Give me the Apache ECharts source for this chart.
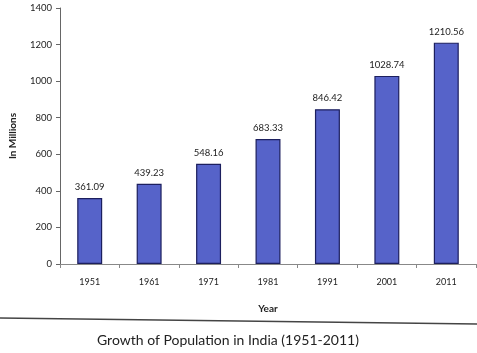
<!DOCTYPE html>
<html>
<head>
<meta charset="utf-8">
<script src="https://cdn.jsdelivr.net/npm/echarts@6/dist/echarts.min.js"></script>
<style>
  html, body { margin: 0; padding: 0; background: #fff; }
  #chart { width: 477px; height: 353px; }
</style>
</head>
<body>
<div id="chart"></div>
<script>
// years on the x axis
const years = ['1951', '1961', '1971', '1981', '1991', '2001', '2011'];
// population in millions
const population = [361.09, 439.23, 548.16, 683.33, 846.42, 1028.74, 1210.56];

const chart = echarts.init(document.getElementById('chart'));
const font = 'Lato, "Open Sans", sans-serif';

chart.setOption({
  animation: false,
  textStyle: { fontFamily: font },
  title: {
    text: 'Growth of Population in India (1951-2011)',
    left: 92,
    top: 328,
    textStyle: { fontFamily: font, fontSize: 14, fontWeight: 'normal', color: '#222' }
  },
  grid: { left: 57, right: 1, top: 8, bottom: 89 },
  xAxis: {
    type: 'category',
    data: years,
    name: 'Year',
    nameLocation: 'middle',
    nameGap: 40,
    nameTextStyle: { fontSize: 10, fontWeight: 'bold', color: '#222' },
    axisLine: { lineStyle: { color: '#888', width: 1 } },
    axisTick: { show: true, lineStyle: { color: '#888' }, length: 4 },
    axisLabel: { fontSize: 9, color: '#222', margin: 14 }
  },
  yAxis: {
    type: 'value',
    min: 0,
    max: 1400,
    interval: 200,
    name: 'In Millions',
    nameLocation: 'middle',
    nameGap: 42,
    nameTextStyle: { fontSize: 10, fontWeight: 'bold', color: '#222' },
    axisLine: { show: true, lineStyle: { color: '#666' } },
    axisTick: { show: true, lineStyle: { color: '#666' }, length: 4 },
    axisLabel: { fontSize: 9.5, color: '#222', margin: 8, formatter: v => String(v) },
    splitLine: { show: false }
  },
  series: [{
    type: 'bar',
    data: population,
    barWidth: '42%',
    itemStyle: { color: '#5663c9', borderColor: '#1c1f5e', borderWidth: 1.2 },
    label: { show: true, position: 'top', fontSize: 9.5, color: '#222', distance: 6 }
  }],
  graphic: [{
    type: 'line',
    shape: { x1: 0, y1: 318, x2: 477, y2: 324 },
    style: { stroke: '#444', lineWidth: 1.5 }
  }]
});
</script>
</body>
</html>
